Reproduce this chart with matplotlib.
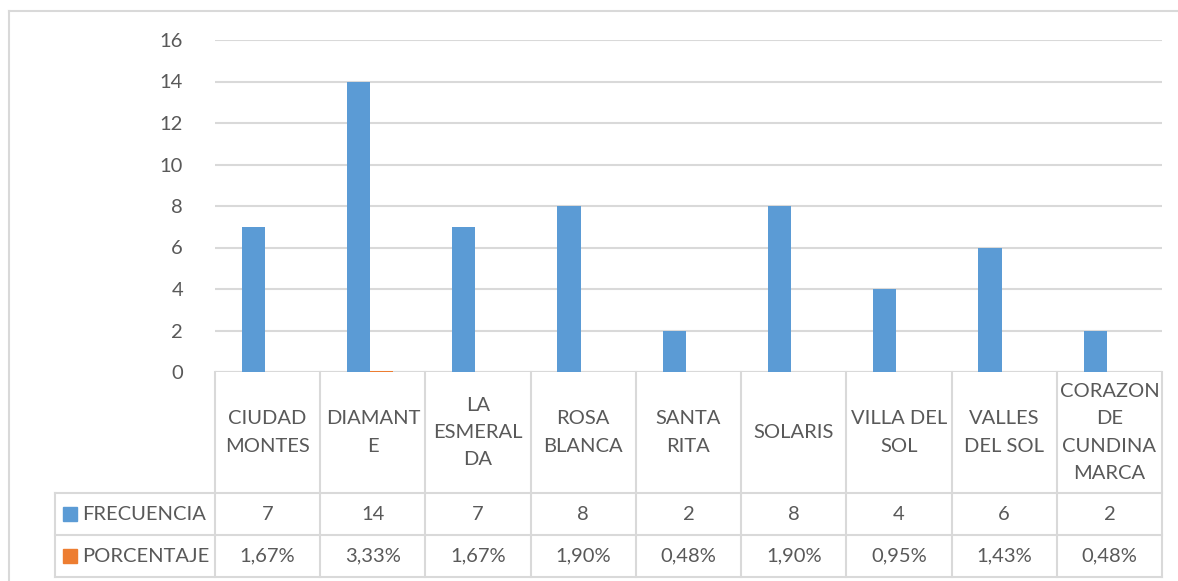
import numpy as np
import matplotlib.pyplot as plt
from matplotlib.patches import Rectangle

# data
barrios = ["CIUDAD\nMONTES", "DIAMANT\nE", "LA\nESMERAL\nDA", "ROSA\nBLANCA",
           "SANTA\nRITA", "SOLARIS", "VILLA DEL\nSOL", "VALLES\nDEL SOL",
           "CORAZON\nDE\nCUNDINA\nMARCA"]
frecuencia = [7, 14, 7, 8, 2, 8, 4, 6, 2]
porcentaje = [1.67, 3.33, 1.67, 1.90, 0.48, 1.90, 0.95, 1.43, 0.48]
series_names = ["FRECUENCIA", "PORCENTAJE"]
y_ticks = [0, 2, 4, 6, 8, 10, 12, 14, 16]

BLUE = "#5B9BD5"
ORANGE = "#ED7D31"
GRID = "#D9D9D9"
TXT = "#595959"
FONT = ["Lato", "DejaVu Sans"]
FS = 14.5

W, H = 1178, 581
fig = plt.figure(figsize=(W / 100, H / 100), dpi=100)
plt.rcParams['font.family'] = FONT

def fx(px):
    return px / W

def fy(py):
    return 1 - py / H

# outer chart border
fig.add_artist(plt.Line2D([fx(8.5), fx(8.5)], [fy(10.5), 0], color=GRID, lw=1.5))
fig.add_artist(plt.Line2D([fx(8.5), 1], [fy(10.5), fy(10.5)], color=GRID, lw=1.5))

# plot area
left, right, top, bottom = 215, 1162, 40, 372
ax = fig.add_axes([fx(left), fy(bottom), fx(right - left), (bottom - top) / H])
n = len(barrios)
x = np.arange(n)
bw = 0.22
ax.bar(x - 0.135, frecuencia, width=bw, color=BLUE, zorder=3)
# percentages as fractions (practically invisible, as in the original)
ax.bar(x + 0.085, [p / 100 for p in porcentaje], width=bw, color=ORANGE, zorder=3)
ax.set_xlim(-0.5, n - 0.5)
ax.set_ylim(0, 16)
ax.set_yticks(y_ticks)
ax.yaxis.grid(True, color=GRID, lw=1.5)
ax.set_axisbelow(True)
ax.tick_params(axis='y', length=0, pad=23, labelsize=FS, labelcolor=TXT)
ax.tick_params(axis='x', length=0, labelbottom=False)
for s in ax.spines.values():
    s.set_visible(False)
ax.axhline(0, color=GRID, lw=1.5, zorder=2)

# data table below the plot
tx0, ty0, ty1 = 55, 372, 577
r1, r2 = 493, 535
tab = fig.add_axes([fx(tx0), fy(ty1), fx(right - tx0), (ty1 - ty0) / H])
tab.set_xlim(tx0, right)
tab.set_ylim(ty1, ty0)
tab.axis('off')
colw = (right - left) / n
lk = dict(color=GRID, lw=1.5, clip_on=False)
for i in range(n + 1):
    xc = left + i * colw
    tab.plot([xc, xc], [ty0, ty1], **lk)
tab.plot([tx0, tx0], [r1, ty1], **lk)
tab.plot([tx0, right], [r1, r1], **lk)
tab.plot([tx0, right], [r2, r2], **lk)
tab.plot([tx0, right], [ty1, ty1], **lk)

for i, name in enumerate(barrios):
    xc = left + (i + 0.5) * colw
    tab.text(xc, (ty0 + r1) / 2, name, ha='center', va='center', fontsize=FS,
             color=TXT, linespacing=1.72)
    tab.text(xc, (r1 + r2) / 2, str(frecuencia[i]), ha='center', va='center',
             fontsize=FS, color=TXT)
    tab.text(xc, (r2 + ty1) / 2, f"{porcentaje[i]:.2f}%".replace('.', ','),
             ha='center', va='center', fontsize=FS, color=TXT)

for (ya, yb), lab, col in zip([(r1, r2), (r2, ty1)], series_names, [BLUE, ORANGE]):
    ym = (ya + yb) / 2
    tab.add_patch(Rectangle((63, ym - 7), 14, 14, color=col, clip_on=False))
    tab.text(82, ym, lab, ha='left', va='center', fontsize=FS, color=TXT)

fig.savefig("out.png", dpi=100)
